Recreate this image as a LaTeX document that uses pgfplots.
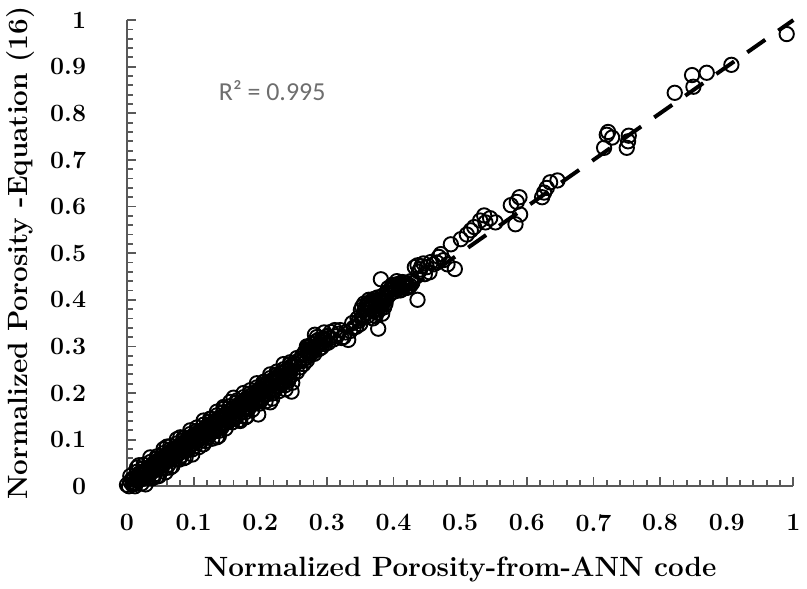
\documentclass[border=0pt]{standalone}
\usepackage{fontspec}
\usepackage{pgfplots}
\pgfplotsset{compat=1.18}
\newfontfamily\carlito{Carlito}
\definecolor{axgray}{RGB}{89,89,89}
\definecolor{rgray}{RGB}{110,110,110}
\begin{document}
\begin{tikzpicture}
\begin{axis}[
 scale only axis, width=334.5pt, height=234pt,
 xmin=0,xmax=1,ymin=0,ymax=1,
 axis x line=bottom, axis y line=left,
 axis line style={-, draw=axgray, line width=1pt},
 xtick={0,0.1,0.2,0.3,0.4,0.5,0.6,0.7,0.8,0.9,1},
 ytick={0,0.1,0.2,0.3,0.4,0.5,0.6,0.7,0.8,0.9,1},
 minor tick num=4,
 tick align=inside,
 major tick length=4.5pt, minor tick length=3pt,
 tick style={draw=axgray, line width=0.9pt},
 /pgf/number format/assume math mode=true,
 ticklabel style={font=\fontsize{12.5}{14}\selectfont\bfseries},
 xticklabel style={yshift=-10.5pt},
 yticklabel style={xshift=-17pt},
 xlabel={Normalized Porosity-from-ANN code},
 ylabel={Normalized Porosity -Equation (16)},
 label style={font=\fontsize{14}{16}\selectfont\bfseries},
 xlabel style={yshift=-6pt},
 ylabel style={yshift=1pt},
 clip=false,
]
\addplot[only marks, mark=o, mark size=3.6pt, mark options={line width=0.95pt, draw=black}] coordinates {
(0.000,0.003)(0.003,0.000)(0.005,0.010)(0.008,0.004)(0.010,0.015)(0.012,0.008)(0.015,0.020)(0.017,0.012)(0.020,0.025)(0.022,0.016)(0.025,0.030)(0.027,0.020)(0.030,0.036)(0.031,0.024)(0.034,0.040)(0.036,0.030)(0.038,0.045)(0.040,0.033)(0.042,0.050)(0.044,0.038)(0.046,0.055)(0.048,0.041)(0.050,0.058)(0.052,0.045)(0.018,0.045)(0.040,0.020)(0.045,0.021)
(0.054,0.062)(0.056,0.050)(0.058,0.066)(0.060,0.054)(0.062,0.070)(0.064,0.058)(0.066,0.075)(0.068,0.061)(0.070,0.079)(0.072,0.065)(0.074,0.082)(0.076,0.069)(0.078,0.086)(0.080,0.072)(0.082,0.090)(0.084,0.077)(0.086,0.094)(0.088,0.081)(0.090,0.099)(0.092,0.085)(0.094,0.103)(0.096,0.088)(0.098,0.107)(0.100,0.092)(0.065,0.040)(0.085,0.060)(0.060,0.085)(0.080,0.105)
(0.102,0.110)(0.104,0.096)(0.106,0.114)(0.108,0.100)(0.110,0.118)(0.112,0.104)(0.114,0.121)(0.116,0.107)(0.118,0.125)(0.120,0.111)(0.122,0.129)(0.124,0.114)(0.126,0.133)(0.128,0.118)(0.130,0.137)(0.132,0.121)(0.134,0.141)(0.136,0.125)(0.138,0.144)(0.140,0.128)(0.142,0.148)(0.144,0.132)(0.146,0.152)(0.148,0.136)(0.150,0.156)(0.115,0.090)(0.135,0.105)(0.125,0.145)(0.145,0.170)
(0.152,0.140)(0.155,0.162)(0.157,0.145)(0.160,0.166)(0.162,0.150)(0.165,0.172)(0.167,0.154)(0.170,0.177)(0.172,0.160)(0.175,0.182)(0.177,0.165)(0.180,0.188)(0.182,0.170)(0.185,0.193)(0.187,0.175)(0.190,0.198)(0.192,0.181)(0.195,0.204)(0.197,0.186)(0.200,0.210)(0.202,0.191)(0.205,0.215)(0.208,0.197)(0.210,0.220)(0.213,0.203)(0.216,0.226)(0.219,0.208)(0.222,0.232)(0.225,0.214)(0.228,0.238)(0.231,0.220)(0.234,0.244)(0.237,0.226)(0.240,0.250)(0.243,0.232)(0.246,0.257)(0.249,0.240)(0.197,0.154)(0.247,0.203)(0.170,0.140)(0.160,0.190)(0.215,0.180)(0.180,0.150)
(0.010,0.006)(0.020,0.018)(0.030,0.029)(0.040,0.041)(0.050,0.049)(0.060,0.061)(0.070,0.068)(0.080,0.081)(0.090,0.089)(0.100,0.101)(0.110,0.108)(0.120,0.121)(0.130,0.128)(0.140,0.141)(0.150,0.148)(0.160,0.159)(0.170,0.168)(0.180,0.180)(0.190,0.188)(0.200,0.200)(0.210,0.208)(0.220,0.221)(0.230,0.229)(0.240,0.241)
(0.005,0.022)(0.015,0.031)(0.025,0.039)(0.035,0.052)(0.045,0.060)(0.055,0.071)(0.065,0.079)(0.075,0.092)(0.085,0.099)(0.095,0.112)(0.105,0.119)(0.115,0.132)(0.125,0.139)(0.135,0.152)(0.145,0.159)(0.155,0.172)(0.165,0.180)(0.175,0.191)(0.185,0.199)(0.195,0.212)(0.205,0.219)(0.215,0.232)(0.225,0.240)(0.235,0.251)(0.245,0.262)
(0.012,0.000)(0.022,0.006)(0.032,0.018)(0.042,0.026)(0.052,0.038)(0.062,0.046)(0.072,0.058)(0.082,0.066)(0.092,0.078)(0.102,0.086)(0.112,0.098)(0.122,0.106)(0.132,0.118)(0.142,0.126)(0.152,0.138)(0.162,0.146)(0.172,0.158)(0.182,0.166)(0.192,0.178)(0.202,0.186)(0.212,0.198)(0.222,0.206)(0.232,0.218)(0.242,0.226)
(0.028,0.004)(0.048,0.022)(0.068,0.043)(0.088,0.062)(0.108,0.084)(0.128,0.102)(0.148,0.124)(0.168,0.142)(0.188,0.164)(0.208,0.182)(0.228,0.204)(0.248,0.222)
(0.015,0.040)(0.035,0.062)(0.055,0.080)(0.075,0.101)(0.095,0.120)(0.115,0.141)(0.135,0.160)(0.155,0.181)(0.175,0.200)(0.195,0.221)(0.215,0.240)(0.235,0.262)
(0.015,0.014)(0.025,0.024)(0.035,0.036)(0.045,0.044)(0.055,0.056)(0.065,0.064)(0.075,0.076)(0.085,0.084)(0.095,0.096)(0.105,0.104)(0.115,0.116)(0.125,0.124)(0.135,0.136)(0.145,0.144)(0.155,0.156)(0.165,0.164)(0.175,0.176)(0.185,0.184)(0.195,0.196)(0.205,0.204)(0.215,0.216)(0.225,0.224)(0.235,0.236)(0.245,0.244)
(0.008,0.016)(0.018,0.027)(0.028,0.035)(0.038,0.047)(0.048,0.055)(0.058,0.067)(0.068,0.075)(0.078,0.087)(0.088,0.095)(0.098,0.107)(0.108,0.115)(0.118,0.127)(0.128,0.135)(0.138,0.147)(0.148,0.155)(0.158,0.167)(0.168,0.175)(0.178,0.187)(0.188,0.195)(0.198,0.207)(0.208,0.215)(0.218,0.227)(0.228,0.235)(0.238,0.247)(0.248,0.256)
(0.013,0.005)(0.023,0.016)(0.033,0.024)(0.043,0.036)(0.053,0.044)(0.063,0.056)(0.073,0.064)(0.083,0.076)(0.093,0.084)(0.103,0.096)(0.113,0.104)(0.123,0.116)(0.133,0.124)(0.143,0.136)(0.153,0.144)(0.163,0.156)(0.173,0.164)(0.183,0.176)(0.193,0.184)(0.203,0.196)(0.213,0.204)(0.223,0.216)(0.233,0.224)(0.243,0.236)
(0.038,0.017)(0.058,0.039)(0.078,0.057)(0.098,0.079)(0.118,0.097)(0.138,0.119)(0.158,0.137)(0.178,0.159)(0.198,0.177)(0.218,0.199)(0.238,0.217)
(0.025,0.046)(0.045,0.064)(0.065,0.086)(0.085,0.104)(0.105,0.126)(0.125,0.144)(0.145,0.166)(0.165,0.184)(0.185,0.206)(0.205,0.224)(0.225,0.246)(0.245,0.266)
(0.058,0.030)(0.098,0.068)(0.138,0.108)(0.178,0.148)(0.218,0.188)(0.238,0.208)
(0.252,0.262)(0.255,0.245)(0.258,0.270)(0.260,0.255)(0.263,0.280)(0.265,0.262)(0.268,0.290)(0.270,0.270)(0.272,0.299)(0.274,0.280)(0.276,0.288)(0.278,0.305)(0.280,0.295)(0.282,0.325)(0.284,0.300)(0.287,0.314)(0.290,0.310)(0.295,0.318)(0.300,0.322)(0.306,0.331)(0.310,0.315)(0.317,0.327)(0.320,0.335)(0.325,0.320)(0.332,0.314)(0.335,0.333)(0.340,0.340)(0.344,0.342)(0.348,0.355)(0.351,0.378)(0.355,0.365)(0.358,0.372)(0.360,0.390)(0.362,0.389)(0.365,0.380)(0.367,0.398)(0.370,0.375)(0.372,0.378)(0.374,0.392)(0.376,0.405)(0.377,0.338)(0.378,0.385)(0.380,0.395)(0.381,0.444)(0.383,0.370)(0.385,0.410)(0.387,0.406)(0.390,0.415)(0.395,0.420)(0.400,0.425)(0.403,0.430)(0.407,0.434)(0.410,0.420)(0.411,0.427)(0.414,0.432)(0.418,0.425)(0.420,0.435)(0.425,0.430)(0.432,0.470)(0.436,0.400)(0.436,0.474)(0.440,0.465)(0.445,0.478)(0.447,0.455)(0.454,0.459)(0.456,0.481)(0.465,0.480)(0.471,0.498)(0.475,0.485)(0.481,0.476)(0.486,0.519)(0.492,0.466)(0.501,0.530)(0.510,0.540)(0.516,0.549)(0.521,0.556)(0.530,0.570)(0.536,0.581)(0.538,0.566)(0.545,0.575)(0.553,0.566)(0.576,0.603)(0.583,0.562)(0.589,0.620)(0.590,0.583)(0.585,0.610)
(0.255,0.275)(0.262,0.268)(0.266,0.285)(0.270,0.300)(0.273,0.290)(0.277,0.296)(0.281,0.284)(0.285,0.320)(0.288,0.305)(0.292,0.298)(0.296,0.330)(0.298,0.312)(0.302,0.308)(0.305,0.318)(0.312,0.335)(0.315,0.322)(0.322,0.318)(0.328,0.330)(0.338,0.350)(0.346,0.360)(0.350,0.348)(0.353,0.385)(0.356,0.392)(0.360,0.372)(0.363,0.400)(0.366,0.388)(0.369,0.360)(0.371,0.402)(0.373,0.365)(0.376,0.380)(0.379,0.398)(0.382,0.388)(0.384,0.400)(0.388,0.392)(0.392,0.425)(0.398,0.432)(0.402,0.418)(0.405,0.440)(0.408,0.425)(0.413,0.438)(0.416,0.430)(0.422,0.428)(0.428,0.436)(0.438,0.460)(0.442,0.472)(0.450,0.470)(0.460,0.476)(0.468,0.492)
(0.352,0.360)(0.357,0.380)(0.361,0.365)(0.364,0.393)(0.368,0.385)(0.372,0.395)(0.375,0.372)(0.377,0.400)(0.380,0.380)(0.384,0.392)(0.386,0.384)(0.389,0.402)(0.393,0.410)(0.397,0.415)(0.401,0.432)(0.404,0.422)(0.409,0.430)(0.412,0.422)(0.417,0.437)(0.421,0.426)(0.426,0.440)(0.268,0.275)(0.275,0.300)(0.279,0.288)(0.283,0.310)(0.289,0.295)(0.293,0.315)(0.297,0.305)
(0.623,0.620)(0.626,0.630)(0.630,0.640)(0.635,0.652)(0.646,0.656)(0.716,0.726)(0.720,0.754)(0.722,0.760)(0.728,0.748)(0.750,0.726)(0.753,0.752)(0.752,0.740)(0.822,0.844)(0.848,0.882)(0.850,0.857)(0.870,0.887)(0.907,0.904)(0.990,0.970)
};
\addplot[black, line width=2pt, dash pattern=on 11pt off 8pt] coordinates {(0,0) (1,1)};
\node[anchor=west, font=\carlito\fontsize{13}{15}\selectfont, text=rgray, inner sep=0pt] at (axis cs:0.1375,0.848) {R² = 0.995};
\end{axis}
\end{tikzpicture}
\end{document}
